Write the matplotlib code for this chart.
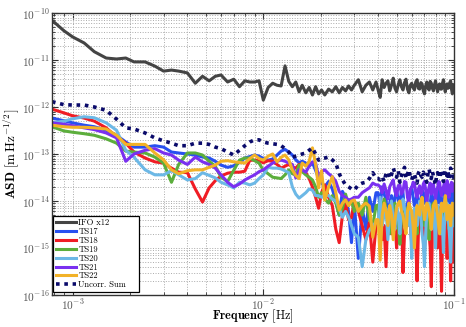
import numpy as np
import matplotlib
matplotlib.use('Agg')
import matplotlib.pyplot as plt
from matplotlib.ticker import LogLocator, NullFormatter

# frequency grid in mHz
freq_mhz = [0.78, 0.9, 1.0, 1.15, 1.3, 1.5, 1.7, 1.9, 2.1, 2.4,
            2.7, 3.0, 3.3, 3.6, 4.0, 4.4, 4.8, 5.2, 5.6, 6.0,
            6.5, 7.0, 7.5, 8.0, 8.5, 9.0, 9.5, 10, 10.6, 11.2,
            11.8, 12.4, 13.0, 13.6, 14.2, 14.8, 15.4, 16, 16.7, 17.4,
            18.1, 18.8, 19.5, 20.2, 21, 22, 23, 24, 25, 26,
            27, 28, 29, 30, 31.5, 33, 34.5, 36, 37.5, 39,
            40, 41, 42, 43, 44, 45, 46, 47, 48, 49,
            50, 51, 52, 53, 54, 55, 56, 57, 58, 59,
            60, 61, 62, 63, 64, 65, 66, 67, 68, 69,
            70, 71, 72, 73, 74, 75, 76, 77, 78, 79,
            80, 81, 82, 83, 84, 85, 86, 87, 88, 89,
            90, 91, 92, 93, 94, 95, 96, 97, 98, 99,
            100]

# IFO x12 in units of 1e-12
ifo = [70, 42, 31, 23, 15, 11, 10.5, 11, 9.1, 9.1,
       7.4, 5.8, 6.1, 5.8, 5.3, 3.2, 4.5, 3.6, 4.5, 4.8,
       3.4, 3.9, 2.7, 3.6, 3.4, 3.4, 3.6, 1.4, 2.6, 3.2,
       2.9, 2.8, 7.5, 3.5, 2.7, 3.4, 2.1, 2.9, 2.0, 2.6,
       1.8, 2.7, 1.9, 2.3, 1.8, 2.4, 2.1, 2.7, 2.0, 2.6,
       2.2, 2.8, 2.3, 2.9, 3.8, 2.1, 2.9, 3.4, 2.3, 3.4,
       2.3, 1.6, 3.8, 2.6, 3.2, 3.6, 2.2, 2.9, 4.1, 2.5,
       2.1, 3.0, 3.8, 2.7, 2.3, 3.3, 3.9, 2.4, 2.0, 2.9,
       3.2, 2.6, 2.3, 3.4, 3.8, 2.5, 2.4, 3.3, 3.1, 2.2,
       1.9, 2.8, 3.4, 2.6, 2.3, 3.5, 3.2, 2.5, 2.2, 3.0,
       3.6, 2.7, 2.1, 2.9, 3.1, 2.4, 2.4, 3.2, 3.8, 2.6,
       2.1, 2.8, 3.1, 2.5, 2.6, 3.3, 3.6, 2.4, 1.9, 3.0,
       2.9]

# test-mass channels in units of 1e-14
ts17 = [58, 51, 46, 41, 38, 32, 25, 18, 14, 14,
        15, 14, 11, 10.5, 10, 9.5, 8.6, 8.2, 7, 5.8,
        5.2, 5.6, 6.6, 8.2, 8.8, 9.5, 9.0, 8.0, 7.4, 7.8,
        9.5, 11.5, 12.5, 11, 9.5, 7.5, 6.5, 7, 6.4, 5.5,
        6.5, 4.5, 3.0, 2.4, 2.0, 2.6, 1.8, 1.0, 0.5, 1.6,
        1.2, 0.6, 0.13, 0.9, 0.06, 0.7, 0.25, 1.2, 0.6, 1.5,
        1.5, 0.8, 2.0, 1.4, 1.1, 0.4, 0.9, 1.3, 0.7, 1.2,
        1.8, 1.0, 0.9, 1.6, 1.5, 0.6, 0.35, 0.9, 1.1, 1.7,
        2.0, 1.2, 0.8, 1.0, 1.4, 0.9, 0.5, 1.1, 1.7, 1.3,
        0.9, 1.5, 1.2, 0.6, 0.3, 0.8, 1.6, 1.2, 0.7, 1.0,
        1.3, 1.8, 0.9, 1.4, 2.0, 1.1, 0.6, 0.9, 1.1, 1.5,
        1.6, 0.9, 0.5, 1.0, 1.4, 1.2, 0.9, 1.3, 1.8, 1.4,
        1.0]

ts18 = [90, 75, 65, 58, 50, 36, 23, 17, 11, 8.2,
        6.8, 6.4, 5, 4.1, 4.0, 1.8, 0.95, 1.9, 2.7, 3.4,
        3.9, 4.1, 4.1, 4.3, 7.4, 7.4, 7.2, 6.5, 7.2, 7.0,
        6.0, 5.0, 5.5, 6.0, 5.3, 5.0, 6.0, 4.5, 4.0, 3.0,
        2.0, 1.2, 0.7, 1.5, 2.2, 1.2, 0.8, 0.25, 0.13, 0.5,
        0.9, 0.4, 0.45, 1.0, 0.6, 0.3, 0.15, 0.35, 0.05, 0.3,
        0.3, 0.7, 0.15, 0.3, 0.04, 0.5, 0.35, 0.2, 0.8, 0.4,
        0.1, 0.3, 0.4, 0.6, 0.03, 0.2, 0.35, 0.5, 0.7, 0.3,
        0.12, 0.4, 0.5, 0.15, 0.02, 0.2, 0.3, 0.5, 0.6, 0.25,
        0.08, 0.3, 0.4, 0.5, 0.2, 0.1, 0.015, 0.2, 0.35, 0.5,
        0.7, 0.3, 0.1, 0.2, 0.3, 0.1, 0.012, 0.15, 0.25, 0.4,
        0.5, 0.2, 0.06, 0.2, 0.3, 0.15, 0.02, 0.2, 0.4, 0.3,
        0.05]

ts19 = [38, 31, 29, 27, 25, 21, 17, 11.5, 11, 10.5,
        8.6, 6.4, 2.5, 6.0, 10.5, 10.5, 9.5, 7.0, 5.5, 3.2,
        2.6, 4.5, 7.4, 8.2, 8.2, 7.2, 6.4, 4.5, 3.8, 3.2,
        3.1, 3.0, 3.6, 4.6, 3.8, 3.6, 5.8, 4.2, 3.6, 3.2,
        2.8, 2.0, 1.2, 1.5, 1.1, 0.9, 1.3, 0.9, 0.5, 0.7,
        1.4, 0.8, 1.0, 0.6, 0.9, 0.5, 1.2, 0.4, 0.3, 0.8,
        0.8, 0.25, 0.6, 1.1, 0.7, 0.35, 0.2, 0.5, 0.7, 0.9,
        0.5, 0.3, 0.12, 0.4, 0.9, 0.6, 0.4, 0.7, 0.8, 0.5,
        0.3, 0.45, 0.6, 0.35, 0.2, 0.5, 0.9, 0.7, 0.5, 0.4,
        0.3, 0.55, 0.7, 0.4, 0.15, 0.35, 0.6, 0.8, 0.9, 0.5,
        0.3, 0.4, 0.5, 0.6, 0.7, 0.4, 0.2, 0.5, 0.8, 0.6,
        0.4, 0.5, 0.6, 0.4, 0.25, 0.45, 0.7, 0.6, 0.5, 0.6,
        0.8]

ts20 = [46, 50, 56, 62, 59, 46, 32, 12, 8.5, 4.6,
        3.6, 3.6, 4.4, 3.6, 2.8, 3.0, 4.0, 3.5, 3.1, 2.5,
        2.2, 1.9, 2.5, 2.4, 2.2, 2.4, 3.0, 3.6, 5.2, 5.0,
        5.0, 4.8, 4.4, 4.0, 2.0, 1.4, 1.15, 1.3, 1.5, 1.8,
        1.7, 1.3, 1.3, 1.2, 1.35, 1.3, 1.1, 1.0, 0.7, 0.45,
        0.6, 0.45, 0.3, 0.2, 0.17, 0.04, 0.15, 0.24, 0.3, 0.35,
        0.35, 1.2, 0.3, 0.5, 0.7, 0.15, 0.6, 1.0, 0.4, 0.25,
        0.8, 0.5, 0.2, 0.6, 1.1, 0.7, 0.5, 0.3, 0.9, 0.4,
        0.06, 0.3, 0.7, 0.5, 0.3, 0.6, 1.0, 0.5, 0.2, 0.12,
        0.04, 0.2, 0.6, 0.8, 0.9, 0.5, 0.25, 0.4, 0.7, 0.3,
        0.1, 0.5, 0.8, 0.6, 0.4, 0.2, 0.6, 0.3, 0.08, 0.3,
        0.5, 0.7, 0.9, 0.5, 0.3, 0.15, 0.05, 0.2, 0.6, 0.4,
        0.3]

ts21 = [46, 43, 40, 36, 33, 28, 22, 7, 10, 12,
        13, 10.5, 9.5, 7.4, 6.0, 8.6, 6.8, 6.0, 5.0, 3.6,
        2.5, 2.0, 2.3, 2.8, 3.2, 3.6, 4.2, 4.6, 5.5, 6.4,
        7.0, 7.4, 7.0, 6.4, 6.0, 3.1, 4.6, 4.6, 4.1, 5.5,
        6.8, 6.4, 3.3, 4.2, 4.6, 3.8, 3.3, 2.6, 1.6, 1.3,
        1.2, 1.05, 1.1, 1.2, 1.2, 1.5, 1.7, 1.9, 2.4, 2.2,
        2.2, 2.0, 1.5, 2.3, 1.7, 1.1, 2.0, 2.4, 2.8, 1.6,
        1.3, 2.1, 2.2, 1.4, 1.6, 2.6, 2.5, 1.2, 0.9, 1.8,
        1.9, 2.5, 2.4, 1.5, 1.2, 1.8, 2.1, 1.4, 1.6, 2.3,
        2.6, 1.7, 1.0, 1.5, 2.0, 2.4, 1.4, 1.9, 2.3, 1.5,
        1.1, 1.6, 1.9, 2.6, 2.5, 1.7, 1.3, 1.8, 2.0, 2.4,
        1.5, 1.2, 2.7, 2.2, 1.2, 1.6, 2.1, 2.5, 1.6, 1.9,
        2.3]

ts22 = [41, 38, 37, 37, 36, 34, 25, 16, 16, 16,
        10.5, 7.5, 4.6, 3.8, 4.4, 4.6, 4.6, 5.2, 5.8, 7.0,
        7.2, 6.8, 6.6, 6.4, 8.0, 9.5, 8.0, 7.4, 9.0, 10,
        6.8, 8.5, 9.5, 7.5, 4.6, 3.5, 3.0, 6.4, 5.5, 7.0,
        13.5, 6.0, 1.9, 4.4, 1.05, 2.0, 3.3, 1.5, 0.64, 0.9,
        1.05, 0.8, 1.0, 1.05, 0.6, 0.78, 0.9, 0.78, 0.17, 0.4,
        0.4, 0.055, 0.5, 0.9, 0.6, 0.3, 0.8, 0.5, 0.15, 0.4,
        0.7, 0.9, 1.0, 0.6, 0.5, 0.3, 0.2, 0.6, 0.9, 0.7,
        0.6, 0.3, 0.1, 0.4, 0.8, 0.6, 0.5, 0.9, 1.2, 0.7,
        0.4, 0.6, 0.9, 0.8, 0.6, 0.4, 0.25, 0.5, 0.8, 0.9,
        1.0, 0.7, 0.5, 0.3, 0.2, 0.5, 0.9, 0.7, 0.6, 0.9,
        1.3, 0.8, 0.4, 0.6, 0.8, 0.5, 0.3, 0.6, 0.9, 0.7,
        0.5]

uncorr_sum = [130, 112, 110, 110, 100, 85, 55, 36, 34, 28,
              22, 19, 17, 15, 15, 17, 17, 16, 14, 13,
              11, 9.5, 12, 15, 18, 20, 20, 18, 17, 16.5,
              16, 15, 13, 11, 8.5, 9, 9.5, 10, 10.5, 12,
              13.5, 10, 7.4, 8, 8.2, 8.6, 7.5, 6.4, 3.8, 2.8,
              2.2, 2.0, 1.8, 1.7, 2.2, 2.4, 2.5, 3.0, 4.0, 3.0,
              3.0, 2.8, 3.3, 2.6, 3.8, 4.2, 3.0, 3.6, 5.0, 3.9,
              3.2, 4.4, 2.5, 3.4, 4.0, 5.2, 3.0, 3.7, 4.6, 3.3,
              2.8, 3.6, 3.8, 2.9, 2.4, 3.9, 4.4, 3.5, 3.2, 4.1,
              3.6, 2.9, 2.5, 3.8, 4.8, 3.6, 3.0, 4.2, 3.4, 2.7,
              2.2, 3.5, 4.0, 3.3, 3.1, 4.6, 3.8, 3.0, 2.6, 3.7,
              4.5, 3.9, 3.4, 4.3, 2.9, 3.6, 5.0, 4.1, 3.5, 3.2,
              4.0]

labels = ['IFO x12', 'TS17', 'TS18', 'TS19', 'TS20', 'TS21', 'TS22', 'Uncorr. Sum']
colors = ['#444444', '#2850f0', '#f01c24', '#5cae3c', '#6cb8e6', '#7a30f0', '#f2b228', '#0a0a6a']
x_ticks = [1e-3, 1e-2, 1e-1]
y_ticks = [1e-16, 1e-15, 1e-14, 1e-13, 1e-12, 1e-11, 1e-10]

plt.rcParams['mathtext.fontset'] = 'cm'
plt.rcParams['font.family'] = 'serif'
plt.rcParams['font.serif'] = ['cmr10', 'DejaVu Serif']
plt.rcParams['axes.unicode_minus'] = False
plt.rcParams['axes.formatter.use_mathtext'] = True

f = np.array(freq_mhz) * 1e-3
series = [np.array(ifo) * 1e-12] + [np.array(s) * 1e-14 for s in
                                    (ts17, ts18, ts19, ts20, ts21, ts22)]

fig = plt.figure(figsize=(4.66, 3.27), dpi=100)
ax = fig.add_axes([0.1116, 0.0979, 0.8627, 0.8624])

for y, lab, c in zip(series, labels[:-1], colors[:-1]):
    ax.loglog(f, y, color=c, lw=2.2, label=lab)
ax.loglog(f, np.array(uncorr_sum) * 1e-14, color=colors[-1], lw=2.6,
          linestyle=(0, (1, 1.3)), label=labels[-1])

ax.set_xlim(7.8e-4, 0.1)
ax.set_ylim(1e-16, 1e-10)
ax.set_xticks(x_ticks)
ax.set_yticks(y_ticks)
ax.yaxis.set_minor_locator(LogLocator(base=10, subs=np.arange(2, 10), numticks=10))
ax.yaxis.set_minor_formatter(NullFormatter())
ax.xaxis.set_minor_formatter(NullFormatter())

ax.grid(True, which='both', linestyle=':', color='#aaaaaa', linewidth=0.7)
ax.tick_params(which='both', direction='in', top=True, right=True, pad=1.5,
               labelsize=8.2, labelcolor='#555555', color='#333333')
ax.tick_params(which='major', length=4)
ax.tick_params(which='minor', length=2)
for sp in ax.spines.values():
    sp.set_color('#333333')
    sp.set_linewidth(1.0)

ax.set_xlabel(r'$\mathbf{Frequency}\ [\mathrm{Hz}]$', fontsize=8.8, va='bottom')
ax.set_ylabel(r'$\mathbf{ASD}\ [\mathrm{m\,Hz^{-1/2}}]$', fontsize=9.5)
ax.xaxis.set_label_coords(0.5, -0.106)
ax.yaxis.set_label_coords(-0.075, 0.5)

leg = ax.legend(loc='lower left', bbox_to_anchor=(0.003, 0.011, 0.214, 0.2), mode='expand',
                fontsize=6.2, labelspacing=0.05, handlelength=2.3,
                handletextpad=0.3, borderpad=0.3, borderaxespad=0,
                fancybox=False, framealpha=1, edgecolor='black')
leg.get_frame().set_linewidth(0.9)

fig.savefig('out.png', dpi=100)
